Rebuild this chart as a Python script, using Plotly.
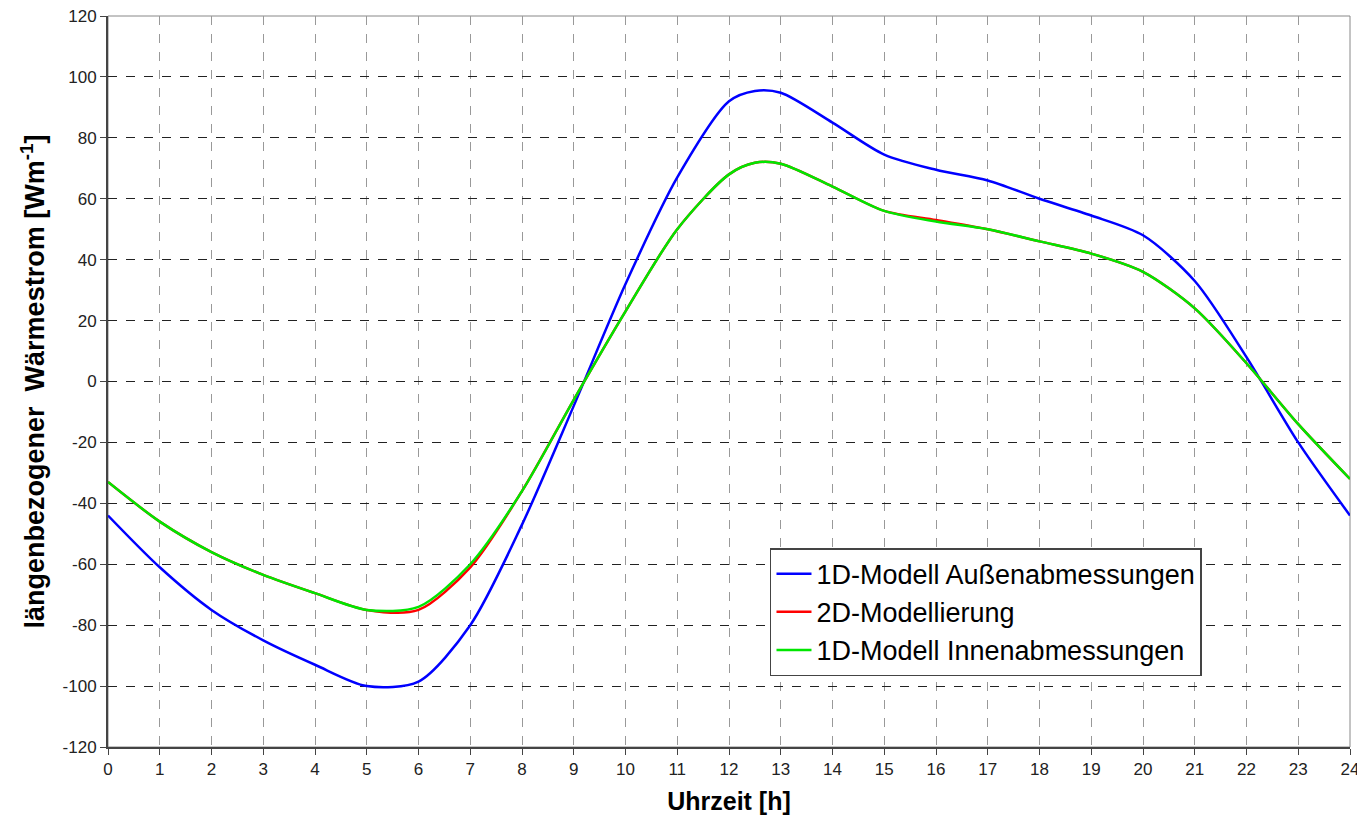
import plotly.graph_objects as go

hours = [0, 1, 2, 3, 4, 5, 6, 7, 8, 9, 10, 11, 12, 12.5, 13, 14, 15, 16, 17, 18, 19, 20, 21, 22, 23, 24]
aussen = [-44, -61, -75, -85, -93, -100, -98.5, -80, -47, -8, 32, 67, 92, 95.4, 94.8, 85, 74.5, 69.5, 66, 60, 54.5, 48, 33, 8, -20, -44]
modell_2d = [-33, -46, -56, -63.5, -69.5, -75, -75, -61, -36, -6, 23, 50, 68, 71.8, 71.5, 64, 56, 53, 50, 46, 42, 36, 24, 6, -14, -32]
innen = [-33, -46, -56, -63.5, -69.5, -75, -74, -60, -36, -6, 23, 50, 68, 71.8, 71.5, 64, 56, 52.5, 50, 46, 42, 36, 24, 6, -14, -32]
x_ticks = list(range(25))
y_ticks = list(range(-120, 121, 20))

names = ["1D-Modell Außenabmessungen", "2D-Modellierung", "1D-Modell Innenabmessungen"]
colors = ["#0000FF", "#FF0000", "#00E600"]
series = [aussen, modell_2d, innen]

fig = go.Figure()
for name, col, vals in zip(names, colors, series):
    fig.add_trace(go.Scatter(x=hours, y=vals, mode="lines", name=name,
                             line=dict(color=col, width=2.5, shape="spline", smoothing=0.8)))

font = "Liberation Sans, Arial, sans-serif"
tickfont = dict(size=17, family="Liberation Sans Narrow, Arial Narrow, Liberation Sans, sans-serif", color="#222222")
fig.update_layout(
    width=1365, height=825,
    margin=dict(l=100, r=23, t=8, b=86),
    paper_bgcolor="white", plot_bgcolor="white",
    font=dict(family=font, color="#222222"),
    showlegend=True,
    legend=dict(x=0.533, y=0.272, xanchor="left", yanchor="top",
                bgcolor="white", bordercolor="#444444", borderwidth=1.5,
                font=dict(size=27, color="black", family=font),
                itemwidth=35, tracegroupgap=0),
    xaxis=dict(range=[0, 24], tickmode="array", tickvals=x_ticks, automargin=False,
               ticklabeloverflow="allow",
               showgrid=True, gridcolor="#999999", griddash="dash", gridwidth=1,
               showline=True, linecolor="#444444", linewidth=2,
               ticks="outside", ticklen=6, tickcolor="#444444",
               tickfont=tickfont, zeroline=False,
               title=dict(text="<b>Uhrzeit [h]</b>", font=dict(size=25, color="black"), standoff=14)),
    yaxis=dict(range=[-120, 120], tickmode="array", tickvals=y_ticks,
               ticktext=[str(v) for v in y_ticks], automargin=False,
               ticklabeloverflow="allow",
               showgrid=True, gridcolor="#222222", griddash="dash", gridwidth=1,
               showline=True, linecolor="#444444", linewidth=2,
               ticks="outside", ticklen=6, tickcolor="#444444",
               tickfont=tickfont, zeroline=False,
               title=dict(text="<b>längenbezogener  Wärmestrom [Wm<sup>-1</sup>]</b>",
                          font=dict(size=27, color="black"), standoff=10)),
)
fig.add_shape(type="rect", xref="paper", yref="paper", x0=0, y0=0, x1=1, y1=1,
              line=dict(color="#888888", width=1), layer="below")

fig.write_html("out.html")
